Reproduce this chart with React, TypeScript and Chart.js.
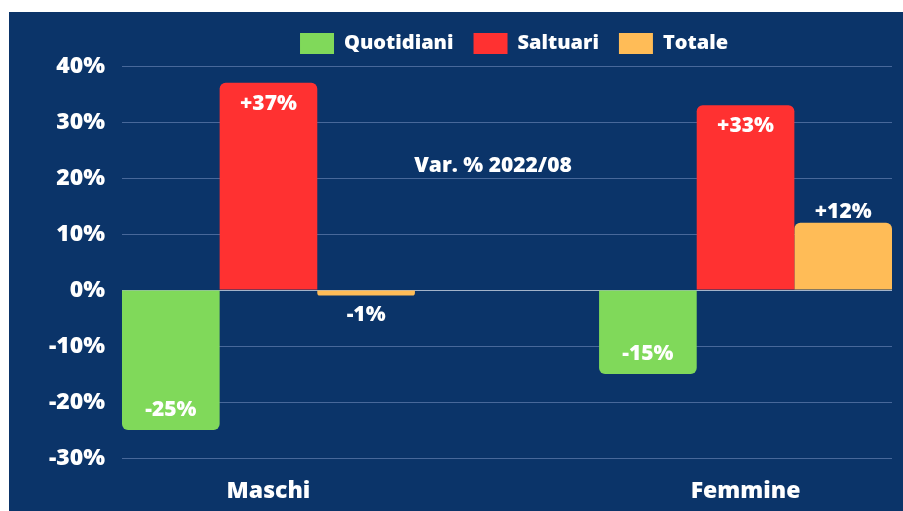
import React, { useEffect, useRef } from 'react';
import { Chart, registerables } from 'chart.js';

Chart.register(...registerables);

const categories = ['Maschi', 'Femmine'];
const seriesNames = ['Quotidiani', 'Saltuari', 'Totale'];
const quotidiani = [-25, -15];
const saltuari = [37, 33];
const totale = [-1, 12];
const yMin = -30;
const yMax = 40;
const yStep = 10;
const noteText = 'Var. % 2022/08';
const noteValue = 22.2;

const FONT = "'Open Sans', 'Noto Sans', sans-serif";
const BG = '#0b3469';
const COLORS = ['#80d95a', '#ff3131', '#ffbc57'];
const LABEL_MODES = ['inside', 'inside', 'outside'];

const toPoints = (vals: number[]) => vals.map((y, i) => ({ x: i, y }));
const fmt = (v: number) => `${v > 0 ? '+' : ''}${v}%`;

const legendShift = {
  id: 'legendShift',
  afterLayout(chart: any) {
    const l = chart.legend;
    if (!l) return;
    l.left += 7;
    l.right += 7;
    l.top -= 2;
    l.bottom -= 2;
  },
};

const valueLabels = {
  id: 'valueLabels',
  afterDatasetsDraw(chart: any) {
    const ctx = chart.ctx;
    ctx.save();
    ctx.fillStyle = '#ffffff';
    ctx.font = `800 21px ${FONT}`;
    ctx.textAlign = 'center';
    ctx.textBaseline = 'middle';
    chart.data.datasets.forEach((ds: any, di: number) => {
      const meta = chart.getDatasetMeta(di);
      meta.data.forEach((el: any, i: number) => {
        const v = ds.data[i].y;
        const { x, y } = el.getProps(['x', 'y'], true);
        let ty;
        if (LABEL_MODES[di] === 'inside') {
          ty = v >= 0 ? y + 21 : y - 20;
        } else {
          ty = v >= 0 ? y - 11 : y + 19;
        }
        ctx.fillText(fmt(v), x, ty);
      });
    });
    const ys = chart.scales.y;
    ctx.font = `800 21px ${FONT}`;
    ctx.fillText(noteText, chart.chartArea.left + 371, ys.getPixelForValue(noteValue));
    ctx.restore();
  },
};

export default function App() {
  const ref = useRef<HTMLCanvasElement>(null);
  useEffect(() => {
    if (!ref.current) return;
    const seriesValues = [quotidiani, saltuari, totale];
    const chart = new Chart(ref.current, {
      type: 'bar',
      data: {
        datasets: seriesNames.map((name, i) => ({
          label: name,
          data: toPoints(seriesValues[i]),
          backgroundColor: COLORS[i],
          borderWidth: 0,
          borderRadius: 6,
          borderSkipped: 'start',
          categoryPercentage: 0.614,
          barPercentage: 1,
        })),
      },
      options: {
        animation: false,
        responsive: false,
        layout: { padding: { top: 3, right: 11, bottom: 0, left: 0 } },
        scales: {
          x: {
            type: 'linear',
            min: -0.307,
            max: 1.307,
            offset: false,
            grid: { display: false },
            border: { display: false },
            afterBuildTicks: (s: any) => {
              s.ticks = categories.map((_, i) => ({ value: i }));
            },
            afterFit: (s: any) => {
              s.height = 53;
            },
            ticks: {
              autoSkip: false,
              maxRotation: 0,
              padding: 12,
              color: '#ffffff',
              font: { family: FONT, size: 23, weight: '800' },
              callback: (v: any) => categories[v] ?? '',
            },
          },
          y: {
            min: yMin,
            max: yMax,
            border: { display: false },
            grid: {
              drawTicks: false,
              lineWidth: 1,
              color: (c: any) => (c.tick && c.tick.value === 0 ? '#a3b3c9' : '#48689a'),
            },
            afterFit: (s: any) => {
              s.width = 113;
            },
            ticks: {
              stepSize: yStep,
              padding: 17,
              color: '#ffffff',
              font: { family: FONT, size: 23, weight: '800' },
              callback: (v: any) => `${v}%`,
            },
          },
        },
        plugins: {
          legend: {
            fullSize: false,
            labels: {
              color: '#ffffff',
              font: { family: FONT, size: 20, weight: '800' },
              boxWidth: 34,
              boxHeight: 21,
              padding: 20,
            },
          },
          tooltip: { enabled: false },
        },
      } as any,
      plugins: [legendShift, valueLabels],
    });
    return () => chart.destroy();
  }, []);
  return (
    <div
      style={{
        position: 'fixed',
        left: 9,
        top: 12,
        width: 894,
        height: 499,
        background: BG,
      }}
    >
      <canvas ref={ref} width={894} height={499} style={{ display: 'block' }} />
    </div>
  );
}
